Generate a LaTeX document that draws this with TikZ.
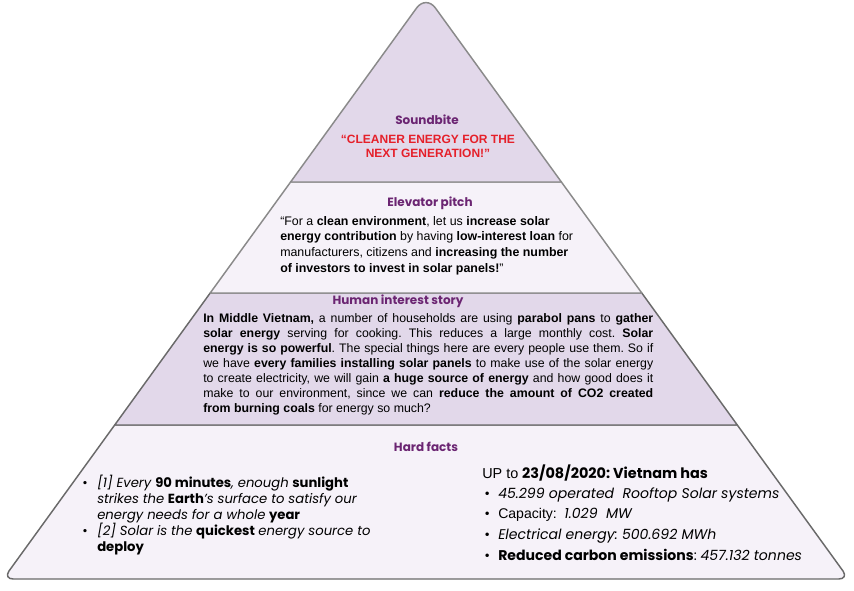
\documentclass[tikz,border=0pt]{standalone}
\usepackage{fontspec}
\setmainfont{Liberation Sans}
\newfontfamily\pop{Poppins}
\definecolor{lavender}{HTML}{E2D8EA}
\definecolor{lightlav}{HTML}{F6F2F9}
\definecolor{edgegray}{HTML}{8A8A8A}
\definecolor{edgedark}{HTML}{6A6A6A}
\definecolor{headpurple}{HTML}{6B2572}
\definecolor{soundred}{HTML}{E5202A}
\tikzset{
  layer/.style={line width=1.1pt, draw=edgegray, line join=round},
  heading/.style={font=\pop\bfseries\fontsize{9}{11}\selectfont, text=headpurple, inner sep=0pt},
  body/.style={inner sep=0pt, align=left, anchor=north west, text=black},
}
\begin{document}
\frenchspacing
\begin{tikzpicture}[x=0.75pt,y=-0.75pt]
\useasboundingbox (0,0) rectangle (854,590);
% corner coordinates
\coordinate (apex) at (426,-5);
\coordinate (l1) at (290.6,182);  \coordinate (r1) at (561.4,182);
\coordinate (l2) at (210.2,293);  \coordinate (r2) at (641.8,293);
\coordinate (l3) at (114.7,425);  \coordinate (r3) at (737.3,425);
\coordinate (l4) at (3.2,579);    \coordinate (r4) at (848.8,579);
% layers
\draw[layer, fill=lightlav, draw=edgedark] (l3) -- (r3) [rounded corners=7.5pt]-- (r4) -- (l4) [sharp corners]-- cycle;
\draw[layer, fill=lavender, draw=edgedark] (l2) -- (r2) -- (r3) -- (l3) -- cycle;
\draw[layer, fill=lightlav] (l1) -- (r1) -- (r2) -- (l2) -- cycle;
\draw[layer, fill=lavender] (l1) [rounded corners=12pt]-- (apex) [sharp corners]-- (r1) -- cycle;

% Soundbite
\node[heading] (sbh) at (427,120) {Soundbite};
\node[inner sep=0pt, align=center, text=soundred, font=\bfseries\fontsize{9}{10.5}\selectfont] (sbt) at (428,146)
  {“CLEANER ENERGY FOR THE\\NEXT GENERATION!”};

% Elevator pitch
\node[heading] (eph) at (430,203) {Elevator pitch};
\node[body, font=\fontsize{9.3}{11.7}\selectfont] (ept) at (280,216)
  {“For a \textbf{clean environment}, let us \textbf{increase solar}\\
   \textbf{energy contribution} by having \textbf{low-interest loan} for\\
   manufacturers, citizens and \textbf{increasing the number}\\
   \textbf{of investors to invest in solar panels!}”};

% Human interest story
\node[heading] (hih) at (398,301) {Human interest story};
\newcommand{\jl}[1]{\makebox[337.5pt][s]{#1}}
\node[body, font=\fontsize{9.25}{11.25}\selectfont] (hit) at (203,313.5)
  {\jl{\textbf{In Middle Vietnam,} a number of households are using \textbf{parabol pans} to \textbf{gather}}\\
   \jl{\textbf{solar energy} serving for cooking. This reduces a large monthly cost. \textbf{Solar}}\\
   \jl{\textbf{energy is so powerful}. The special things here are every people use them. So if}\\
   \jl{we have \textbf{every families installing solar panels} to make use of the solar energy}\\
   \jl{to create electricity, we will gain \textbf{a huge source of energy} and how good does it}\\
   \jl{make to our environment, since we can \textbf{reduce the amount of CO2 created}}\\
   \textbf{from burning coals} for energy so much?};

% Hard facts
\node[heading] (hfh) at (426,447) {Hard facts};
\node[body, font=\pop\fontsize{9.9}{12}\selectfont] (hfl) at (97,474.5)
  {\llap{\textbullet\hspace{7pt}}\textit{[1] Every} \textbf{90 minutes}\textit{, enough} \textbf{sunlight}\\
   \textit{strikes the} \textbf{Earth}\textit{’s surface to satisfy our}\\
   \textit{energy needs for a whole} \textbf{year}\\
   \llap{\textbullet\hspace{7pt}}\textit{[2] Solar is the} \textbf{quickest} \textit{energy source to}\\
   \textbf{deploy}};

\node[body, anchor=west, font=\pop\fontsize{10.8}{12}\selectfont] (hfr) at (482,473)
  {{\fontspec{Liberation Sans}UP to} \textbf{23/08/2020: Vietnam has}};
\node[body, font=\pop\fontsize{10.55}{15.6}\selectfont] (hfb) at (498,487)
  {\llap{\textbullet\hspace{6pt}}\textit{45.299 operated\ \ Rooftop Solar systems}\\
   \llap{\textbullet\hspace{6pt}}{\fontspec{Liberation Sans}Capacity:}\ \ \textit{1.029\ \ MW}\\
   \llap{\textbullet\hspace{6pt}}\textit{Electrical energy: 500.692 MWh}\\
   \llap{\textbullet\hspace{6pt}}\textbf{Reduced carbon emissions}: \textit{457.132 tonnes}};
\end{tikzpicture}
\end{document}
